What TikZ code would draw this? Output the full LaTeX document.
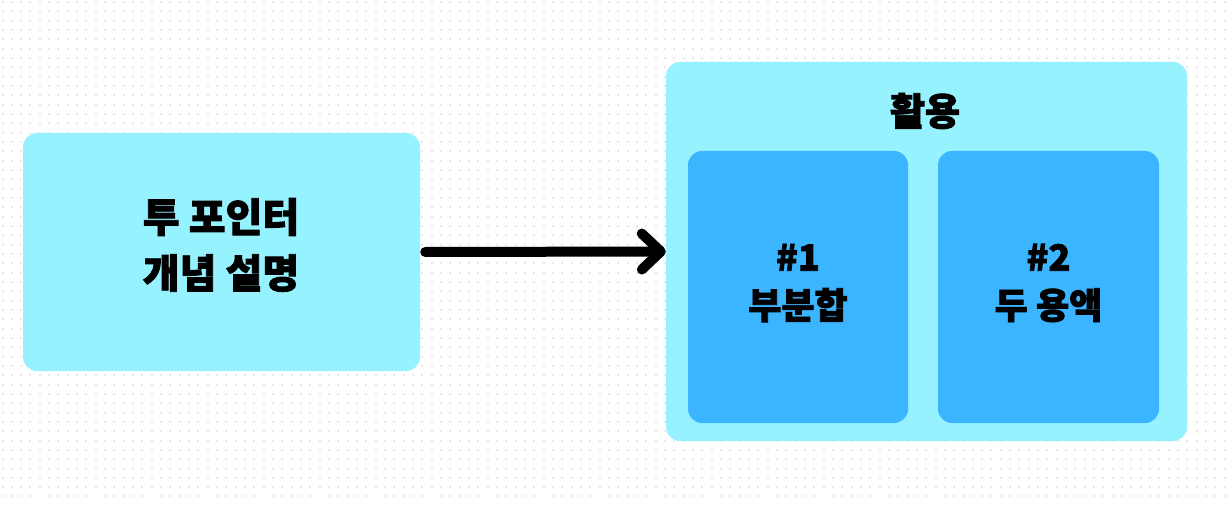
\documentclass[tikz,border=0pt]{standalone}
\usepackage{fontspec}
\newfontfamily\kr{Noto Sans CJK KR}[BoldFeatures={FakeBold=2.2}]
\usetikzlibrary{arrows.meta}
\definecolor{lightcyan}{HTML}{97F2FF}
\definecolor{midblue}{HTML}{3BB5FF}
\definecolor{dotgray}{HTML}{E8E8E8}
\tikzset{
  panel/.style={rounded corners=14pt, inner sep=0pt, draw=none},
  biglabel/.style={font=\kr\bfseries\fontsize{40}{56}\selectfont, align=center, inner sep=0pt, text=black},
  titlelabel/.style={font=\kr\bfseries\fontsize{38}{48}\selectfont, align=center, inner sep=0pt, text=black},
  smalllabel/.style={font=\kr\bfseries\fontsize{36}{48}\selectfont, align=center, inner sep=0pt, text=black},
  conn/.style={line width=10pt, line cap=round, line join=round, -{Straight Barb[round, length=19pt, width=36pt]}}
}
\begin{document}
\begin{tikzpicture}[x=1pt,y=-1pt]
\useasboundingbox (0,0) rectangle (1228,505);
\fill[white] (0,0) rectangle (1228,505);
\foreach \i in {0,...,131}{\foreach \j in {0,...,54}{\fill[dotgray] ({1.5+\i*9.33},{1+\j*9.33}) rectangle +(2,2);}}
\node[panel, fill=lightcyan, minimum width=397pt, minimum height=238pt] (left) at (221.5,252) {};
\node[panel, fill=lightcyan, minimum width=521pt, minimum height=379pt] (outer) at (926.5,251.5) {};
\node[panel, fill=midblue, minimum width=220pt, minimum height=272pt] (in1) at (798,287) {};
\node[panel, fill=midblue, minimum width=221pt, minimum height=272pt] (in2) at (1048.5,287) {};
\node[biglabel] (lt) at (221,245) {투 포인터\\개념 설명};
\node[titlelabel] (title) at (925,111) {활용};
\node[smalllabel] (t1) at (798,283) {\#1\\부분합};
\node[smalllabel] (t2) at (1048.5,283) {\#2\\두 용액};
\draw[conn] (left.east) ++(5,0) coordinate (a0) (a0) -- (outer.west);
\end{tikzpicture}
\end{document}
